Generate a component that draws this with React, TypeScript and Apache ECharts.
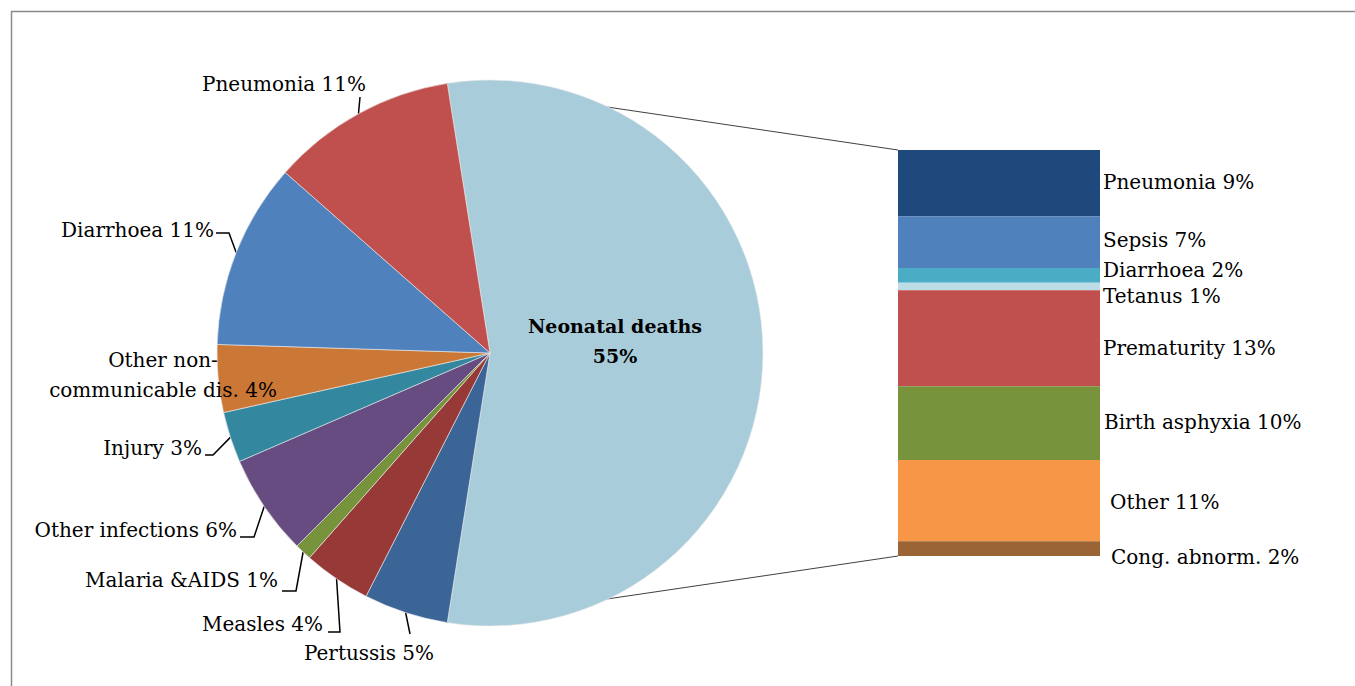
import React, { useEffect, useRef } from "react";
import * as echarts from "echarts";

// Causes of under-five deaths (share of all deaths, %)
const PIE_CATEGORIES = [
  "Neonatal deaths",
  "Pertussis",
  "Measles",
  "Malaria &AIDS",
  "Other infections",
  "Injury",
  "Other non-communicable dis.",
  "Diarrhoea",
  "Pneumonia",
];
const PIE_VALUES = [55, 5, 4, 1, 6, 3, 4, 11, 11];
const PIE_COLORS = [
  "#A9CCDB",
  "#3B6497",
  "#973A37",
  "#77933C",
  "#664C80",
  "#33879E",
  "#CB7837",
  "#4F81BD",
  "#C0504D",
];

// Breakdown of the neonatal share
const BAR_CATEGORIES = [
  "Pneumonia",
  "Sepsis",
  "Diarrhoea",
  "Tetanus",
  "Prematurity",
  "Birth asphyxia",
  "Other",
  "Cong. abnorm.",
];
const BAR_VALUES = [9, 7, 2, 1, 13, 10, 11, 2];
const BAR_COLORS = [
  "#1F497D",
  "#4F81BD",
  "#4BACC6",
  "#BCDCE6",
  "#C0504D",
  "#77933C",
  "#F79646",
  "#9B6434",
];

// ---- layout ----
const FONT = "DejaVu Serif";
const PIE_CX = 490;
const PIE_CY = 353;
const PIE_R = 273;
const START_ANGLE = 99;
const BAR_LEFT = 898;
const BAR_TOP = 150;
const BAR_W = 202;
const BAR_H = 406;

type LabelPos = {
  x: number;
  y: number;
  align: "left" | "right" | "center";
  knee?: number[][];
};

// where each outside pie label sits, and the bend of its leader line
const PIE_LABEL_POS: (LabelPos | null)[] = [
  null,
  { x: 369, y: 653, align: "center", knee: [[410, 634], [410, 634]] },
  { x: 323, y: 624, align: "right", knee: [[340, 632], [328, 632]] },
  { x: 278, y: 580, align: "right", knee: [[296, 591], [282, 591]] },
  { x: 237, y: 530, align: "right", knee: [[254, 537], [240, 537]] },
  { x: 202, y: 448, align: "right", knee: [[213, 455], [205, 455]] },
  { x: 163, y: 375, align: "center" },
  { x: 214, y: 230, align: "right", knee: [[229, 233], [216, 233]] },
  { x: 284, y: 84, align: "center", knee: [[360, 97], [360, 97]] },
];

// nudges for the bar labels so that the thin segments do not collide
const BAR_LABEL_OFFSET = [
  [0, -1],
  [0, -2],
  [0, -5],
  [0, 9],
  [0, 10],
  [1, -1],
  [7, 1],
  [8, 8],
];

function pointOnPie(angleDeg: number) {
  const a = (angleDeg * Math.PI) / 180;
  return [PIE_CX + PIE_R * Math.cos(a), PIE_CY - PIE_R * Math.sin(a)];
}

export default function App() {
  const ref = useRef<HTMLDivElement>(null);

  useEffect(() => {
    document.body.style.margin = "0";
    if (!ref.current) return;
    const chart = echarts.init(ref.current, null, { renderer: "svg" });

    const neonatalSweep = (PIE_VALUES[0] / PIE_VALUES.reduce((s, v) => s + v, 0)) * 360;
    const topPt = pointOnPie(START_ANGLE);
    const botPt = pointOnPie(START_ANGLE - neonatalSweep);

    const pieData = PIE_CATEGORIES.map((name, i) => {
      const item: any = {
        name,
        value: PIE_VALUES[i],
        itemStyle: { color: PIE_COLORS[i] },
      };
      if (i === 0) {
        item.label = {
          position: "inside",
          fontWeight: "bold",
          fontSize: 19,
          lineHeight: 30,
          formatter: "Neonatal deaths\n{c}%",
          align: "center",
        };
        item.labelLine = { show: false };
      }
      if (!PIE_LABEL_POS[i] || !PIE_LABEL_POS[i]!.knee) {
        item.labelLine = { show: false };
      }
      return item;
    });

    const barSeries = BAR_CATEGORIES.map((name, i) => ({
      type: "bar",
      name,
      stack: "neonatal",
      xAxisIndex: 0,
      yAxisIndex: 0,
      barWidth: "100%",
      data: [BAR_VALUES[i]],
      itemStyle: { color: BAR_COLORS[i] },
      label: {
        show: true,
        position: "right",
        distance: 3,
        offset: BAR_LABEL_OFFSET[i],
        color: "#000",
        fontFamily: FONT,
        fontSize: 20,
        formatter: `${name} {c}%`,
      },
      emphasis: { disabled: true },
    }));

    chart.setOption({
      animation: false,
      backgroundColor: "#ffffff",
      textStyle: { fontFamily: FONT },
      grid: { left: BAR_LEFT, top: BAR_TOP, width: BAR_W, height: BAR_H },
      xAxis: { type: "category", data: ["Neonatal deaths"], show: false },
      yAxis: { type: "value", min: 0, max: 55, inverse: true, show: false },
      graphic: {
        elements: [
          {
            type: "rect",
            z: 0,
            silent: true,
            shape: { x: 11.5, y: 11.5, width: 1400, height: 700 },
            style: { fill: "none", stroke: "#8A8A8A", lineWidth: 1.5 },
          },
          {
            type: "line",
            z: 0,
            silent: true,
            shape: { x1: topPt[0], y1: topPt[1], x2: BAR_LEFT, y2: BAR_TOP },
            style: { stroke: "#404040", lineWidth: 1 },
          },
          {
            type: "line",
            z: 0,
            silent: true,
            shape: { x1: botPt[0], y1: botPt[1], x2: BAR_LEFT, y2: BAR_TOP + BAR_H },
            style: { stroke: "#404040", lineWidth: 1 },
          },
        ],
      },
      series: [
        {
          type: "pie",
          z: 50,
          center: [PIE_CX, PIE_CY],
          radius: PIE_R,
          startAngle: START_ANGLE,
          clockwise: true,
          avoidLabelOverlap: false,
          data: pieData,
          itemStyle: { borderColor: "#EDEDED", borderWidth: 0.6 },
          label: {
            show: true,
            position: "outside",
            color: "#000",
            fontFamily: FONT,
            fontSize: 20,
            lineHeight: 30,
            formatter: (p: any) =>
              `${String(p.name).replace("non-", "non-\n")} ${p.value}%`,
          },
          labelLine: {
            show: true,
            length: 10,
            length2: 10,
            lineStyle: { color: "#000", width: 1.5 },
          },
          labelLayout: (p: any) => {
            if (p.dataIndex === 0) {
              return { x: PIE_CX + 125, y: PIE_CY - 12, align: "center", verticalAlign: "middle" };
            }
            const pos = PIE_LABEL_POS[p.dataIndex];
            if (!pos) return {};
            const out: any = {
              x: pos.x,
              y: pos.y,
              align: pos.align,
              verticalAlign: "middle",
            };
            if (pos.knee && p.labelLinePoints && p.labelLinePoints.length) {
              out.labelLinePoints = [p.labelLinePoints[0], ...pos.knee];
            }
            return out;
          },
          emphasis: { disabled: true },
        },
        ...barSeries,
      ],
    });

    return () => chart.dispose();
  }, []);

  return <div ref={ref} style={{ width: 1355, height: 686 }} />;
}
